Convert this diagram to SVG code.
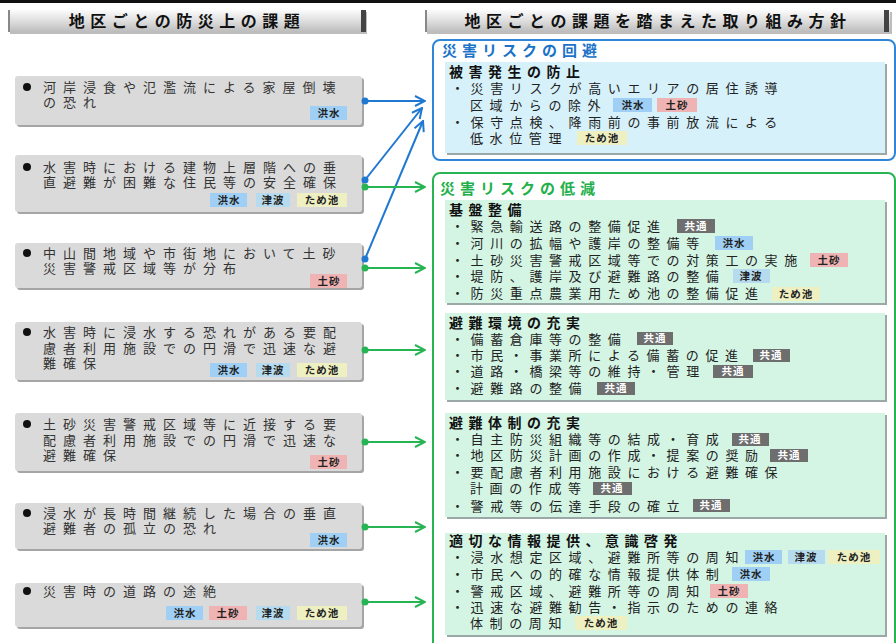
<svg xmlns="http://www.w3.org/2000/svg" width="896" height="643" viewBox="0 0 896 643">
<defs>
<linearGradient id="hg" x1="0" y1="0" x2="0" y2="1">
<stop offset="0" stop-color="#fbfbfb"/><stop offset="0.5" stop-color="#dedede"/><stop offset="1" stop-color="#bcbcbc"/>
</linearGradient>
<marker id="mb" viewBox="0 0 12 12" refX="11" refY="6" markerWidth="12" markerHeight="12" markerUnits="userSpaceOnUse" orient="auto">
<path d="M1,1 L11,6 L1,11" fill="none" stroke="#1f78d1" stroke-width="2"/>
</marker>
<marker id="mg" viewBox="0 0 12 12" refX="11" refY="6" markerWidth="12" markerHeight="12" markerUnits="userSpaceOnUse" orient="auto">
<path d="M1,1 L11,6 L1,11" fill="none" stroke="#27b453" stroke-width="2"/>
</marker>
</defs>
<style>
text{font-family:"Liberation Sans","Noto Sans CJK JP","Noto Sans CJK SC",sans-serif;}
.hdr{font-size:16px;font-weight:bold;letter-spacing:5.5px;fill:#111;text-anchor:middle;}
.lt{font-size:13px;letter-spacing:7px;fill:#333;}
.rt{font-size:13px;letter-spacing:6.6px;fill:#222;}
.sub{font-size:14px;font-weight:bold;letter-spacing:5.5px;fill:#111;}
.ttl{font-size:15px;font-weight:bold;letter-spacing:5px;}
.tg{font-size:10.5px;font-weight:bold;fill:#222;text-anchor:middle;letter-spacing:1px;}
.tgw{font-size:10.5px;font-weight:bold;fill:#fff;text-anchor:middle;letter-spacing:1px;}
.lb{fill:#dadada;}
.ls{fill:#a5a5a5;}
.kz{fill:#9fcff5;}
.tn{fill:#b6dbef;}
.tm{fill:#eef0c2;}
.ds{fill:#efb3b3;}
.kt{fill:#6e6e6e;}
.ib{fill:#d6f1fa;}
.ig{fill:#d4f5e4;}
.is{fill:#9aa8a8;}
</style>
<rect x="0" y="0" width="896" height="643" fill="#ffffff"/>
<rect x="0" y="0" width="896" height="3" fill="#111"/>

<g id="header-left">
<rect x="10" y="12" width="357" height="22" fill="#bdbdbd"/>
<rect x="8" y="10" width="357" height="22" fill="url(#hg)"/>
<rect x="8" y="10" width="2" height="22" fill="#888"/>
<rect x="361" y="10" width="5" height="22" fill="#444"/>
<text class="hdr" x="187" y="27">地区ごとの防災上の課題</text>
</g>
<g id="header-right">
<rect x="427" y="12" width="465" height="22" fill="#bdbdbd"/>
<rect x="425" y="10" width="465" height="22" fill="url(#hg)"/>
<rect x="425" y="10" width="2" height="22" fill="#888"/>
<rect x="884" y="10" width="5" height="22" fill="#444"/>
<text class="hdr" x="658" y="27">地区ごとの課題を踏まえた取り組み方針</text>
</g>

<g id="issue-1">
<rect class="ls" x="17" y="78" width="347" height="49" rx="3"/>
<rect class="lb" x="15" y="76" width="347" height="49" rx="3"/>
<circle cx="27" cy="87" r="4" fill="#111"/>
<text class="lt" x="43" y="92">河岸浸食や氾濫流による家屋倒壊</text>
<text class="lt" x="43" y="107">の恐れ</text>
<rect class="kz" x="310" y="106" width="37" height="14"/><text class="tg" x="329" y="117">洪水</text>
</g>
<g id="issue-2">
<rect class="ls" x="17" y="157" width="347" height="57" rx="3"/>
<rect class="lb" x="15" y="155" width="347" height="57" rx="3"/>
<circle cx="27" cy="167" r="4" fill="#111"/>
<text class="lt" x="43" y="172">水害時における建物上層階への垂</text>
<text class="lt" x="43" y="187">直避難が困難な住民等の安全確保</text>
<rect class="kz" x="210" y="193" width="37" height="14"/><text class="tg" x="229" y="204">洪水</text>
<rect class="tn" x="256" y="193" width="34" height="14"/><text class="tg" x="273" y="204">津波</text>
<rect class="tm" x="297" y="193" width="50" height="14"/><text class="tg" x="322" y="204">ため池</text>
</g>
<g id="issue-3">
<rect class="ls" x="17" y="245" width="347" height="45" rx="3"/>
<rect class="lb" x="15" y="243" width="347" height="45" rx="3"/>
<circle cx="27" cy="253" r="4" fill="#111"/>
<text class="lt" x="43" y="258">中山間地域や市街地において土砂</text>
<text class="lt" x="43" y="273">災害警戒区域等が分布</text>
<rect class="ds" x="310" y="274" width="37" height="14"/><text class="tg" x="329" y="285">土砂</text>
</g>
<g id="issue-4">
<rect class="ls" x="17" y="324" width="347" height="58" rx="3"/>
<rect class="lb" x="15" y="322" width="347" height="58" rx="3"/>
<circle cx="27" cy="332" r="4" fill="#111"/>
<text class="lt" x="43" y="337">水害時に浸水する恐れがある要配</text>
<text class="lt" x="43" y="353">慮者利用施設での円滑で迅速な避</text>
<text class="lt" x="43" y="368">難確保</text>
<rect class="kz" x="210" y="363" width="37" height="14"/><text class="tg" x="229" y="374">洪水</text>
<rect class="tn" x="256" y="363" width="34" height="14"/><text class="tg" x="273" y="374">津波</text>
<rect class="tm" x="297" y="363" width="50" height="14"/><text class="tg" x="322" y="374">ため池</text>
</g>
<g id="issue-5">
<rect class="ls" x="17" y="415" width="347" height="58" rx="3"/>
<rect class="lb" x="15" y="413" width="347" height="58" rx="3"/>
<circle cx="27" cy="424" r="4" fill="#111"/>
<text class="lt" x="43" y="429">土砂災害警戒区域等に近接する要</text>
<text class="lt" x="43" y="445">配慮者利用施設での円滑で迅速な</text>
<text class="lt" x="43" y="460">避難確保</text>
<rect class="ds" x="310" y="455" width="37" height="14"/><text class="tg" x="329" y="466">土砂</text>
</g>
<g id="issue-6">
<rect class="ls" x="17" y="505" width="347" height="46" rx="3"/>
<rect class="lb" x="15" y="503" width="347" height="46" rx="3"/>
<circle cx="27" cy="513" r="4" fill="#111"/>
<text class="lt" x="43" y="518">浸水が長時間継続した場合の垂直</text>
<text class="lt" x="43" y="533">避難者の孤立の恐れ</text>
<rect class="kz" x="310" y="533" width="37" height="14"/><text class="tg" x="329" y="544">洪水</text>
</g>
<g id="issue-7">
<rect class="ls" x="17" y="585" width="347" height="44" rx="3"/>
<rect class="lb" x="15" y="583" width="347" height="44" rx="3"/>
<circle cx="27" cy="591" r="4" fill="#111"/>
<text class="lt" x="43" y="596">災害時の道路の途絶</text>
<rect class="kz" x="166" y="606" width="37" height="14"/><text class="tg" x="185" y="617">洪水</text>
<rect class="ds" x="209" y="606" width="38" height="14"/><text class="tg" x="228" y="617">土砂</text>
<rect class="tn" x="256" y="606" width="34" height="14"/><text class="tg" x="273" y="617">津波</text>
<rect class="tm" x="297" y="606" width="50" height="14"/><text class="tg" x="322" y="617">ため池</text>
</g>

<g id="avoid">
<rect x="433" y="40" width="462" height="120" rx="7" fill="#ffffff" stroke="#2f86d8" stroke-width="2"/>
<text class="ttl" x="442" y="56" fill="#1a73c8">災害リスクの回避</text>
<rect class="is" x="447" y="64" width="440" height="91"/>
<rect class="ib" x="445" y="62" width="440" height="91"/>
<text class="sub" x="449" y="77">被害発生の防止</text>
<text class="rt" x="451" y="93">・災害リスクが高いエリアの居住誘導</text>
<text class="rt" x="470" y="110">区域からの除外</text>
<rect class="kz" x="613" y="98" width="39" height="14"/><text class="tg" x="633" y="109">洪水</text>
<rect class="ds" x="657" y="98" width="40" height="14"/><text class="tg" x="677" y="109">土砂</text>
<text class="rt" x="451" y="127">・保守点検、降雨前の事前放流による</text>
<text class="rt" x="470" y="143">低水位管理</text>
<rect class="tm" x="577" y="131" width="50" height="14"/><text class="tg" x="602" y="142">ため池</text>
</g>

<g id="reduce">
<rect x="433" y="173" width="462" height="490" rx="7" fill="#ffffff" stroke="#27b453" stroke-width="2"/>
<text class="ttl" x="440" y="194" fill="#22b04a">災害リスクの低減</text>
</g>
<g id="infra">
<rect class="is" x="447" y="202" width="440" height="103"/>
<rect class="ig" x="445" y="200" width="440" height="103"/>
<text class="sub" x="449" y="215">基盤整備</text>
<text class="rt" x="451" y="231">・緊急輸送路の整備促進</text>
<rect class="kt" x="677" y="219" width="38" height="14"/><text class="tgw" x="696" y="230">共通</text>
<text class="rt" x="451" y="248">・河川の拡幅や護岸の整備等</text>
<rect class="kz" x="715" y="236" width="38" height="14"/><text class="tg" x="734" y="247">洪水</text>
<text class="rt" x="451" y="265">・土砂災害警戒区域等での対策工の実施</text>
<rect class="ds" x="810" y="253" width="38" height="14"/><text class="tg" x="829" y="264">土砂</text>
<text class="rt" x="451" y="281">・堤防、護岸及び避難路の整備</text>
<rect class="tn" x="733" y="269" width="37" height="14"/><text class="tg" x="751" y="280">津波</text>
<text class="rt" x="451" y="298">・防災重点農業用ため池の整備促進</text>
<rect class="tm" x="772" y="287" width="48" height="14"/><text class="tg" x="796" y="298">ため池</text>
</g>
<g id="shelter-env">
<rect class="is" x="447" y="315" width="440" height="87"/>
<rect class="ig" x="445" y="313" width="440" height="87"/>
<text class="sub" x="449" y="328">避難環境の充実</text>
<text class="rt" x="451" y="344">・備蓄倉庫等の整備</text>
<rect class="kt" x="637" y="332" width="36" height="13"/><text class="tgw" x="655" y="342">共通</text>
<text class="rt" x="451" y="360">・市民・事業所による備蓄の促進</text>
<rect class="kt" x="753" y="349" width="37" height="13"/><text class="tgw" x="771" y="359">共通</text>
<text class="rt" x="451" y="376">・道路・橋梁等の維持・管理</text>
<rect class="kt" x="713" y="365" width="40" height="13"/><text class="tgw" x="733" y="375">共通</text>
<text class="rt" x="451" y="393">・避難路の整備</text>
<rect class="kt" x="597" y="382" width="38" height="13"/><text class="tgw" x="616" y="392">共通</text>
</g>
<g id="evac-system">
<rect class="is" x="447" y="415" width="440" height="104"/>
<rect class="ig" x="445" y="413" width="440" height="104"/>
<text class="sub" x="449" y="428">避難体制の充実</text>
<text class="rt" x="451" y="444">・自主防災組織等の結成・育成</text>
<rect class="kt" x="732" y="433" width="37" height="13"/><text class="tgw" x="750" y="443">共通</text>
<text class="rt" x="451" y="460">・地区防災計画の作成・提案の奨励</text>
<rect class="kt" x="770" y="449" width="38" height="13"/><text class="tgw" x="789" y="459">共通</text>
<text class="rt" x="451" y="477">・要配慮者利用施設における避難確保</text>
<text class="rt" x="470" y="493">計画の作成等</text>
<rect class="kt" x="593" y="482" width="39" height="13"/><text class="tgw" x="612" y="492">共通</text>
<text class="rt" x="451" y="511">・警戒等の伝達手段の確立</text>
<rect class="kt" x="693" y="499" width="37" height="13"/><text class="tgw" x="711" y="509">共通</text>
</g>
<g id="info">
<rect class="is" x="447" y="535" width="440" height="102"/>
<rect class="ig" x="445" y="533" width="440" height="102"/>
<text class="sub" x="449" y="546">適切な情報提供、意識啓発</text>
<text class="rt" x="451" y="562">・浸水想定区域、避難所等の周知</text>
<rect class="kz" x="745" y="550" width="37" height="14"/><text class="tg" x="764" y="561">洪水</text>
<rect class="tn" x="788" y="550" width="37" height="14"/><text class="tg" x="806" y="561">津波</text>
<rect class="tm" x="828" y="550" width="52" height="14"/><text class="tg" x="854" y="561">ため池</text>
<text class="rt" x="451" y="579">・市民への的確な情報提供体制</text>
<rect class="kz" x="732" y="567" width="38" height="14"/><text class="tg" x="751" y="578">洪水</text>
<text class="rt" x="451" y="596">・警戒区域、避難所等の周知</text>
<rect class="ds" x="710" y="584" width="38" height="14"/><text class="tg" x="729" y="595">土砂</text>
<text class="rt" x="451" y="612">・迅速な避難勧告・指示のための連絡</text>
<text class="rt" x="470" y="628">体制の周知</text>
<rect class="tm" x="575" y="616" width="52" height="14"/><text class="tg" x="601" y="627">ため池</text>
</g>

<g id="connectors" stroke-width="2" fill="none">
<g stroke="#1f78d1" marker-end="url(#mb)">
<line x1="365" y1="101" x2="425" y2="101"/>
<line x1="365" y1="180" x2="422" y2="108"/>
<line x1="365" y1="259" x2="423" y2="121"/>
</g>
<g stroke="#27b453" marker-end="url(#mg)">
<line x1="365" y1="187" x2="425" y2="187"/>
<line x1="365" y1="268" x2="425" y2="268"/>
<line x1="365" y1="350" x2="425" y2="350"/>
<line x1="365" y1="442" x2="425" y2="442"/>
<line x1="365" y1="527" x2="425" y2="527"/>
<line x1="365" y1="602" x2="425" y2="602"/>
</g>
<g fill="#1f78d1" stroke="none">
<circle cx="365" cy="101" r="3.5"/><circle cx="365" cy="180" r="3.5"/><circle cx="365" cy="259" r="3.5"/>
</g>
<g fill="#27b453" stroke="none">
<circle cx="365" cy="187" r="3.5"/><circle cx="365" cy="268" r="3.5"/><circle cx="365" cy="350" r="3.5"/><circle cx="365" cy="442" r="3.5"/><circle cx="365" cy="527" r="3.5"/><circle cx="365" cy="602" r="3.5"/>
</g>
</g>
</svg>
